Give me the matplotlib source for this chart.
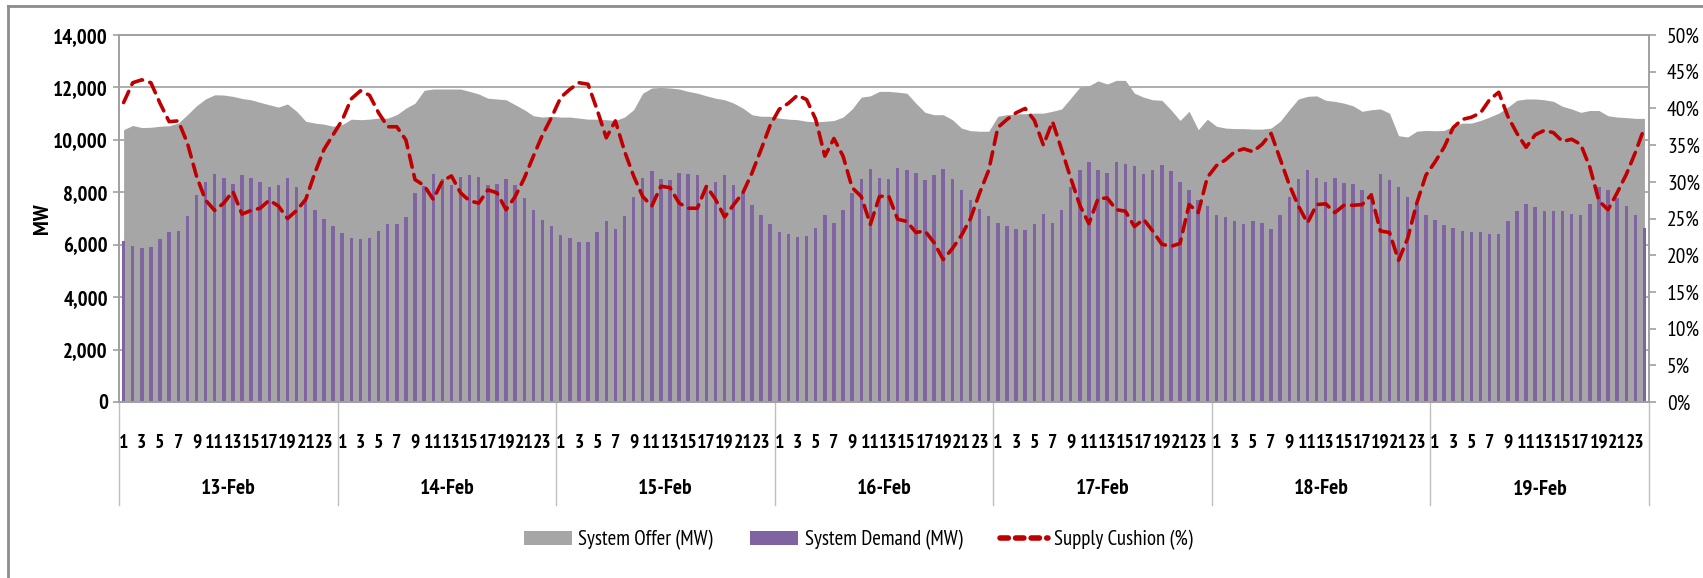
import matplotlib.pyplot as plt
from matplotlib.lines import Line2D
from matplotlib.patches import Patch
from matplotlib.ticker import FuncFormatter

plt.rcParams['font.family'] = ['PT Sans Narrow', 'DejaVu Sans']

days = ['13-Feb', '14-Feb', '15-Feb', '16-Feb', '17-Feb', '18-Feb', '19-Feb']

# System Offer (MW), hourly, one row per day
offer = [
    10390, 10550, 10470, 10480, 10520, 10540, 10640, 10960, 11300, 11560, 11720, 11710,
    11660, 11580, 11530, 11430, 11340, 11250, 11370, 11090, 10710, 10640, 10600, 10520,
    10580, 10790, 10770, 10790, 10830, 10830, 10960, 11210, 11400, 11890, 11940, 11940,
    11940, 11940, 11850, 11750, 11590, 11560, 11530, 11340, 11150, 10920, 10870, 10900,
    10870, 10870, 10830, 10790, 10790, 10770, 10740, 10870, 11150, 11780, 11980, 12000,
    11980, 11940, 11850, 11780, 11680, 11590, 11530, 11400, 11210, 10960, 10900, 10900,
    10830, 10790, 10770, 10710, 10690, 10710, 10740, 10870, 11180, 11630, 11680, 11850,
    11850, 11820, 11780, 11400, 11050, 10960, 10960, 10770, 10450, 10350, 10330, 10330,
    10900, 10960, 10990, 11000, 11020, 11020, 11090, 11180, 11590, 12010, 12060, 12250,
    12130, 12270, 12270, 11780, 11630, 11530, 11510, 11150, 10740, 11090, 10390, 10790,
    10520, 10450, 10430, 10430, 10410, 10410, 10450, 10710, 11150, 11560, 11660, 11680,
    11510, 11470, 11400, 11300, 11090, 11150, 11180, 11020, 10160, 10110, 10330, 10360,
    10350, 10360, 10520, 10640, 10640, 10740, 10870, 11020, 11250, 11510, 11560, 11560,
    11530, 11470, 11280, 11180, 11050, 11120, 11120, 10920, 10870, 10850, 10820, 10820,
]

# System Demand (MW)
demand = [
    6160, 5970, 5860, 5910, 6200, 6500, 6540, 7090, 7910, 8400, 8700, 8550,
    8300, 8650, 8550, 8400, 8210, 8260, 8550, 8210, 7750, 7330, 6990, 6700,
    6450, 6260, 6200, 6260, 6540, 6800, 6800, 7040, 7980, 8230, 8700, 8520,
    8270, 8600, 8650, 8600, 8260, 8310, 8510, 8260, 7770, 7330, 6940, 6700,
    6370, 6260, 6110, 6110, 6500, 6890, 6610, 7090, 7830, 8550, 8800, 8520,
    8460, 8740, 8700, 8650, 8260, 8410, 8650, 8260, 7980, 7530, 7140, 6800,
    6500, 6400, 6300, 6350, 6650, 7140, 6840, 7330, 7980, 8510, 8890, 8550,
    8510, 8930, 8850, 8740, 8460, 8650, 8890, 8510, 8070, 7720, 7380, 7090,
    6840, 6710, 6610, 6560, 6800, 7190, 6840, 7330, 8220, 8850, 9150, 8850,
    8740, 9150, 9090, 8990, 8700, 8850, 9040, 8800, 8410, 8070, 7720, 7470,
    7140, 7040, 6890, 6800, 6890, 6840, 6610, 7140, 7830, 8510, 8850, 8550,
    8410, 8550, 8360, 8310, 8100, 7960, 8700, 8460, 8220, 7830, 7530, 7140,
    6940, 6750, 6650, 6540, 6500, 6500, 6400, 6400, 6890, 7280, 7570, 7430,
    7280, 7280, 7280, 7180, 7140, 7570, 8210, 8070, 7770, 7470, 7140, 6650,
]

# Supply Cushion (%)
cushion = [
    40.8, 43.5, 43.9, 43.5, 40.7, 38.2, 38.3, 35.3, 30.8, 27.5, 26.1, 27.1,
    28.7, 25.6, 26.1, 26.4, 27.5, 26.7, 25.0, 26.1, 27.6, 31.2, 34.4, 36.4,
    38.4, 41.3, 42.4, 41.8, 39.4, 37.5, 37.5, 35.7, 30.3, 29.5, 27.6, 30.1,
    30.8, 28.5, 27.4, 27.1, 28.9, 28.5, 26.2, 28.0, 30.5, 33.5, 36.4, 38.8,
    41.5, 42.6, 43.5, 43.3, 39.8, 36.0, 38.3, 34.2, 30.8, 28.0, 26.7, 29.4,
    29.2, 27.1, 26.4, 26.4, 29.4, 27.6, 25.2, 26.9, 28.5, 31.2, 34.4, 37.7,
    39.9, 40.7, 41.8, 41.2, 38.5, 33.5, 35.9, 33.5, 29.2, 28.0, 24.2, 28.0,
    28.1, 24.9, 24.6, 23.1, 23.3, 21.7, 19.4, 20.9, 22.7, 25.0, 28.5, 31.6,
    37.4, 38.5, 39.4, 40.0, 38.4, 35.0, 38.2, 34.4, 30.5, 26.8, 24.3, 27.7,
    27.8, 26.2, 26.0, 23.9, 24.9, 23.3, 21.5, 21.2, 21.6, 26.9, 25.8, 30.6,
    32.2, 33.0, 34.1, 34.5, 34.1, 35.1, 36.6, 33.1, 29.6, 26.7, 24.4, 26.9,
    27.0, 25.8, 26.8, 26.8, 26.9, 28.2, 23.3, 23.1, 19.3, 22.3, 27.1, 30.9,
    32.7, 34.7, 37.4, 38.5, 38.8, 39.4, 41.2, 42.2, 38.9, 36.6, 34.7, 36.4,
    37.0, 36.7, 35.5, 35.8, 35.1, 32.0, 27.4, 26.2, 28.5, 31.0, 34.0, 37.4,
]

x = list(range(len(offer)))
grey = '#a6a6a6'
purple = '#8064a2'
red = '#c00000'
axis_grey = '#a0a0a0'

fig = plt.figure(figsize=(17.03, 5.78), dpi=100)
ax = fig.add_axes([0.0699, 0.3045, 0.8984, 0.6349])

ax.set_axisbelow(True)
ax.grid(axis='y', color=axis_grey, lw=1.2)
ax.fill_between(x, offer, color=grey, lw=0, zorder=1)
ax.bar(x, demand, width=0.38, color=purple, lw=0, zorder=2)

ax.set_xlim(-0.5, len(x) - 0.5)
ax.set_ylim(0, 14000)
ax.set_yticks(range(0, 14001, 2000))
ax.yaxis.set_major_formatter(FuncFormatter(lambda v, p: f'{int(v):,}'))
ax.tick_params(axis='y', length=4, color=axis_grey, width=1.2, pad=4,
               labelsize=15)
for lab in ax.get_yticklabels():
    lab.set_fontweight('bold')
ax.set_ylabel('MW', fontweight='bold', fontsize=16)
ax.yaxis.set_label_coords(-0.044, 0.5)

# hour labels (odd hours) on the first category level
hour_pos = [i for i in x if i % 2 == 0]
ax.set_xticks(hour_pos)
ax.set_xticklabels([str(i % 24 + 1) for i in hour_pos], fontweight='bold')
ax.tick_params(axis='x', length=0, pad=23, labelsize=14)

for s in ax.spines.values():
    s.set_color(axis_grey)
    s.set_linewidth(1.2)

# day labels and separators on the second level
trans = ax.get_xaxis_transform()
for d, name in enumerate(days):
    ax.text(d * 24 + 11.5, -0.237, name, transform=trans, ha='center',
            va='center', fontweight='bold', fontsize=15.5)
for d in range(len(days) + 1):
    ax.plot([d * 24 - 0.5] * 2, [0, -0.281], transform=trans,
            color='#c0c0c0', lw=1, clip_on=False)

ax2 = ax.twinx()
ax2.plot(x, cushion, color=red, lw=2.6, dashes=(3.4, 2.1),
         dash_capstyle='round', solid_joinstyle='round', zorder=3)
ax2.set_ylim(0, 50)
ax2.set_yticks(range(0, 51, 5))
ax2.yaxis.set_major_formatter(FuncFormatter(lambda v, p: f'{v:.0f}%'))
ax2.tick_params(axis='y', length=5, color=axis_grey, width=1.2, pad=8,
                labelsize=15.5)
for s in ax2.spines.values():
    s.set_color(axis_grey)
    s.set_linewidth(1.2)

handles = [
    Patch(facecolor=grey),
    Patch(facecolor=purple),
    Line2D([], [], color=red, lw=4, dashes=(1.5, 1.3), dash_capstyle='round'),
]
labels = ['System Offer (MW)', 'System Demand (MW)', 'Supply Cushion (%)']
fig.legend(handles, labels, loc='center', bbox_to_anchor=(0.504, 0.066),
           ncol=3, frameon=False, fontsize=15, handlelength=2.3,
           handleheight=0.7, handletextpad=0.3, columnspacing=1.8)

# outer chart border (left and top edges visible)
fig.add_artist(Line2D([0.0047, 0.0047], [0, 0.9896], transform=fig.transFigure,
                      color='#8c8c8c', lw=2))
fig.add_artist(Line2D([0.0047, 1], [0.9896, 0.9896], transform=fig.transFigure,
                      color='#8c8c8c', lw=2))

fig.savefig('out.png', dpi=100)
